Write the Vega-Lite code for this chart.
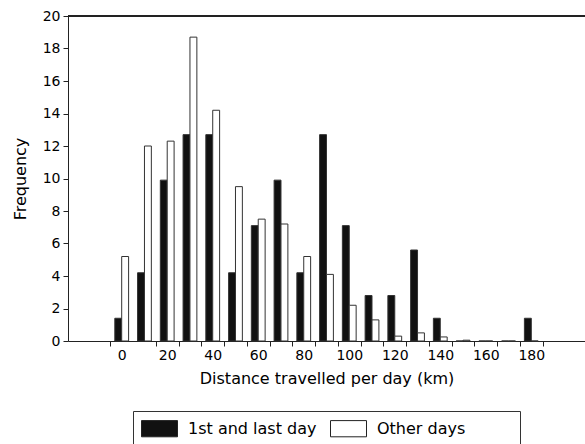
{
  "$schema": "https://vega.github.io/schema/vega-lite/v6.json",
  "width": 517,
  "height": 325,
  "autosize": {"type": "none"},
  "padding": {"left": 68, "top": 16, "right": 0, "bottom": 103},
  "background": "white",
  "config": {
    "view": {"stroke": null},
    "font": "DejaVu Sans",
    "axis": {"labelFont": "DejaVu Sans", "titleFont": "DejaVu Sans", "labelColor": "#000", "titleColor": "#000", "domainColor": "#222", "tickColor": "#222", "titleFontWeight": "normal"},
    "axisY": {
      "title": "Frequency",
      "titleFontSize": 16,
      "titlePadding": 14,
      "labelFontSize": 14,
      "labelPadding": 3,
      "labelOverlap": false,
      "tickSize": 5,
      "values": [0, 2, 4, 6, 8, 10, 12, 14, 16, 18, 20],
      "grid": false
    }
  },
  "data": {
    "values": [
      {"distance": 0, "group": "1st and last day", "frequency": 1.4},
      {"distance": 10, "group": "1st and last day", "frequency": 4.2},
      {"distance": 20, "group": "1st and last day", "frequency": 9.9},
      {"distance": 30, "group": "1st and last day", "frequency": 12.7},
      {"distance": 40, "group": "1st and last day", "frequency": 12.7},
      {"distance": 50, "group": "1st and last day", "frequency": 4.2},
      {"distance": 60, "group": "1st and last day", "frequency": 7.1},
      {"distance": 70, "group": "1st and last day", "frequency": 9.9},
      {"distance": 80, "group": "1st and last day", "frequency": 4.2},
      {"distance": 90, "group": "1st and last day", "frequency": 12.7},
      {"distance": 100, "group": "1st and last day", "frequency": 7.1},
      {"distance": 110, "group": "1st and last day", "frequency": 2.8},
      {"distance": 120, "group": "1st and last day", "frequency": 2.8},
      {"distance": 130, "group": "1st and last day", "frequency": 5.6},
      {"distance": 140, "group": "1st and last day", "frequency": 1.4},
      {"distance": 150, "group": "1st and last day", "frequency": 0},
      {"distance": 160, "group": "1st and last day", "frequency": 0},
      {"distance": 170, "group": "1st and last day", "frequency": 0},
      {"distance": 180, "group": "1st and last day", "frequency": 1.4},
      {"distance": 0, "group": "Other days", "frequency": 5.2},
      {"distance": 10, "group": "Other days", "frequency": 12.0},
      {"distance": 20, "group": "Other days", "frequency": 12.3},
      {"distance": 30, "group": "Other days", "frequency": 18.7},
      {"distance": 40, "group": "Other days", "frequency": 14.2},
      {"distance": 50, "group": "Other days", "frequency": 9.5},
      {"distance": 60, "group": "Other days", "frequency": 7.5},
      {"distance": 70, "group": "Other days", "frequency": 7.2},
      {"distance": 80, "group": "Other days", "frequency": 5.2},
      {"distance": 90, "group": "Other days", "frequency": 4.1},
      {"distance": 100, "group": "Other days", "frequency": 2.2},
      {"distance": 110, "group": "Other days", "frequency": 1.3},
      {"distance": 120, "group": "Other days", "frequency": 0.3},
      {"distance": 130, "group": "Other days", "frequency": 0.5},
      {"distance": 140, "group": "Other days", "frequency": 0.25},
      {"distance": 150, "group": "Other days", "frequency": 0.05},
      {"distance": 160, "group": "Other days", "frequency": 0},
      {"distance": 170, "group": "Other days", "frequency": 0},
      {"distance": 180, "group": "Other days", "frequency": 0}
    ]
  },
  "layer": [
    {
      "mark": {"type": "bar", "stroke": "#333", "strokeWidth": 1},
      "encoding": {
        "x": {
          "field": "distance",
          "type": "ordinal",
          "scale": {"domain": [-10, 0, 10, 20, 30, 40, 50, 60, 70, 80, 90, 100, 110, 120, 130, 140, 150, 160, 170, 180, 190], "paddingInner": 0, "paddingOuter": 0.86},
          "axis": {
            "title": "Distance travelled per day (km)",
            "titleFontSize": 16,
            "titlePadding": 8,
            "labelFontSize": 14,
            "labelAngle": 0,
            "labelPadding": 2,
            "tickSize": 5,
            "tickBand": "extent",
            "values": [0, 10, 20, 30, 40, 50, 60, 70, 80, 90, 100, 110, 120, 130, 140, 150, 160, 170, 180, 190],
            "labelExpr": "datum.value % 20 == 0 && datum.value <= 180 ? datum.value : ''",
            "tickColor": {"condition": {"test": "datum.value < 10 || datum.value >= 190", "value": "transparent"}, "value": "#222"}
          }
        },
        "xOffset": {
          "field": "group",
          "type": "nominal",
          "scale": {"domain": ["1st and last day", "Other days"], "paddingOuter": 0.65, "paddingInner": 0}
        },
        "y": {
          "field": "frequency",
          "type": "quantitative",
          "scale": {"domain": [0, 20], "nice": false},
          "title": "Frequency"
        },
        "fill": {
          "field": "group",
          "type": "nominal",
          "scale": {"domain": ["1st and last day", "Other days"], "range": ["#111111", "#ffffff"]},
          "legend": {
            "title": null,
            "orient": "none",
            "legendX": 65,
            "legendY": 395,
            "direction": "horizontal",
            "columns": 2,
            "padding": 8,
            "strokeColor": "#333",
            "fillColor": "white",
            "labelFont": "DejaVu Sans",
            "labelFontSize": 16,
            "labelColor": "#000",
            "labelOffset": 28,
            "columnPadding": 11,
            "symbolType": "M-1,-0.9H3V0.9H-1Z",
            "symbolSize": 324,
            "symbolStrokeColor": "#222",
            "symbolStrokeWidth": 1,
            "labelExpr": "datum.label == 'Other days' ? 'Other days\u00a0\u00a0\u00a0\u00a0\u00a0\u00a0\u00a0\u00a0\u00a0\u200b' : datum.label"
          }
        }
      }
    },
    {
      "mark": {"type": "rule", "stroke": "#222", "strokeWidth": 2},
      "encoding": {"y": {"datum": 20, "title": "Frequency"}}
    }
  ]
}
